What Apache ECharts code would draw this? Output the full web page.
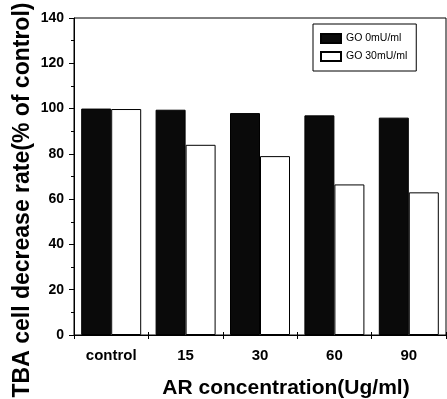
<!DOCTYPE html>
<html>
<head>
<meta charset="utf-8">
<script src="https://cdn.jsdelivr.net/npm/echarts@6/dist/echarts.min.js"></script>
<style>html,body{margin:0;padding:0;background:#fff;}#c{width:447px;height:399px;}</style>
</head>
<body>
<div id="c"></div>
<script>
const categories = ['control', '15', '30', '60', '90'];
const go0 = [100, 99.5, 98, 97, 96];
const go30 = [99.8, 84, 79, 66.5, 63];
const seriesNames = ['GO 0mU/ml', 'GO 30mU/ml'];
const yTicks = [0, 20, 40, 60, 80, 100, 120, 140];

const chart = echarts.init(document.getElementById('c'));
const font = 'Arial, "Liberation Sans", sans-serif';
chart.setOption({
  animation: false,
  backgroundColor: '#fff',
  grid: { left: 74, right: 1, top: 18, bottom: 64, show: true, borderColor: '#000', borderWidth: 1 },
  legend: {
    left: 313, top: 24, orient: 'vertical', icon: 'rect',
    padding: [9, 9, 9, 7], itemGap: 7, itemWidth: 20, itemHeight: 9,
    borderColor: '#000', borderWidth: 1,
    textStyle: { fontFamily: font, fontSize: 10.5, color: '#000' },
    data: seriesNames
  },
  xAxis: [{
    type: 'category', data: categories,
    axisLine: { lineStyle: { color: '#000', width: 1 } },
    axisTick: { show: true, length: 4, lineStyle: { color: '#000' } },
    axisLabel: { fontFamily: font, fontSize: 15, fontWeight: 'bold', color: '#000', margin: 13 }
  }, {
    type: 'category', data: categories, position: 'bottom',
    axisLine: { show: false },
    axisTick: { show: true, inside: true, length: 3, lineStyle: { color: '#000' } },
    axisLabel: { show: false }
  }],
  yAxis: {
    type: 'value', min: yTicks[0], max: yTicks[yTicks.length - 1], interval: 20,
    splitLine: { show: false },
    axisLine: { show: true, lineStyle: { color: '#000', width: 1 } },
    axisTick: { show: true, length: 5, lineStyle: { color: '#000' } },
    minorTick: { show: true, splitNumber: 2, length: 3, lineStyle: { color: '#000' } },
    axisLabel: { fontFamily: font, fontSize: 14, fontWeight: 'bold', color: '#000', margin: 10 }
  },
  graphic: [
    { type: 'text', x: 23, y: 200, rotation: Math.PI / 2,
      style: { text: 'TBA cell decrease rate(% of control)', fontFamily: font, fontSize: 23, fontWeight: 'bold', fill: '#000', align: 'center', verticalAlign: 'middle' } },
    { type: 'text', x: 286, y: 388,
      style: { text: 'AR concentration(Ug/ml)', fontFamily: font, fontSize: 21, fontWeight: 'bold', fill: '#000', align: 'center', verticalAlign: 'middle' } }
  ],
  series: [
    { name: seriesNames[0], type: 'bar', data: go0, barWidth: 30, barGap: '0%',
      itemStyle: { color: '#0a0a0a', borderColor: '#000', borderWidth: 1 } },
    { name: seriesNames[1], type: 'bar', data: go30, barWidth: 30, barGap: '0%',
      itemStyle: { color: '#fff', borderColor: '#000', borderWidth: 1 } }
  ]
});
</script>
</body>
</html>
